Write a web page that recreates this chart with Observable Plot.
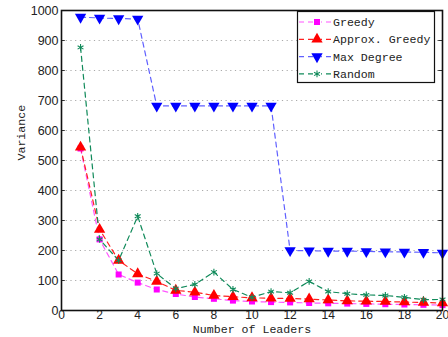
<!DOCTYPE html>
<html><head><meta charset="utf-8">
<script src="https://cdn.jsdelivr.net/npm/d3@7"></script>
<script src="https://cdn.jsdelivr.net/npm/@observablehq/plot@0.6"></script>
<style>body{margin:0;background:#fff}</style>
</head><body><div id="chart"></div>
<script>
const leaders = [1,2,3,4,5,6,7,8,9,10,11,12,13,14,15,16,17,18,19,20];
const greedy = [540,237,120,93,70,55,45,39,33,30,28,27,25,24,23,22,21,20,19,18];
const approxGreedy = [544,270,167,122,97,67,61,50,46,42,41,40,38,35,32,31,30,28,27,25];
const maxDegree = [978,975,973,972,682,682,682,682,682,682,682,200,199,198,198,197,196,195,194,192];
const random = [877,237,167,314,123,73,87,128,70,44,63,59,97,63,56,52,50,44,36,37];
const seriesNames = ["Greedy","Approx. Greedy","Max Degree","Random"];
const yTicks = [0,100,200,300,400,500,600,700,800,900,1000];
const xTicks = [0,2,4,6,8,10,12,14,16,18,20];

const styles = {
  "Greedy": {line:"#ff55ff", fill:"#ff00ff", stroke:"none", symbol:"square", r:3.4, rotate:0},
  "Approx. Greedy": {line:"#ff2020", fill:"#ff0000", stroke:"none", symbol:"triangle", r:4.2, rotate:0},
  "Max Degree": {line:"#6060ff", fill:"#0000ff", stroke:"none", symbol:"triangle", r:4.2, rotate:180},
  "Random": {line:"#108a5a", fill:"none", stroke:"#108a5a", symbol:"asterisk", r:3.2, rotate:0}
};
const valuesBy = {"Greedy":greedy,"Approx. Greedy":approxGreedy,"Max Degree":maxDegree,"Random":random};
const rows = seriesNames.map(s => leaders.map((x,i)=>({x, y: valuesBy[s][i], s})));

const marks = [
  Plot.ruleY(yTicks.filter(v=>v>0 && v<1000), {stroke:"#aaa", strokeDasharray:"1.2,3.5", strokeWidth:1}),
  Plot.ruleY(yTicks, {x1:0, x2:0.2, stroke:"#333"}),
  Plot.ruleY(yTicks, {x1:19.8, x2:20, stroke:"#333"}),
  Plot.axisY({ticks: yTicks, tickSize:0, tickPadding:3, fontSize:12.5, fill:"#222", label:null, tickFormat:d=>String(d)}),
  Plot.axisX({ticks: xTicks, tickSize:0, tickPadding:0, fontSize:12, fill:"#222", label:null, tickFormat:d=>String(d)}),
];
rows.forEach((data,k) => {
  const st = styles[seriesNames[k]];
  marks.push(Plot.line(data, {x:"x", y:"y", stroke: st.line, strokeWidth:1.2, strokeDasharray:"5,4"}));
});
rows.forEach((data,k) => {
  const st = styles[seriesNames[k]];
  marks.push(Plot.dot(data, {x:"x", y:"y", symbol: ()=>st.symbol, fill: st.fill, stroke: st.stroke, strokeWidth:1.1, r: st.r, rotate: st.rotate}));
});
marks.push(Plot.frame({stroke:"#111", strokeWidth:1.6}));
marks.push(Plot.text(["Number of Leaders"], {frameAnchor:"bottom", dy:22, fontFamily:"Liberation Mono", fontSize:11.6, fill:"#222"}));
marks.push(Plot.text(["Variance"], {frameAnchor:"left", dx:-40, rotate:-90, fontFamily:"Liberation Mono", fontSize:11.6, fill:"#222"}));

const chart = Plot.plot({
  width:448, height:337,
  marginLeft:61, marginRight:6, marginTop:10, marginBottom:27,
  style:{fontFamily:"Liberation Sans", background:"#fff"},
  x:{domain:[0,20]},
  y:{domain:[0,1000]},
  symbol:{type:"identity"},
  marks
});
document.getElementById("chart").appendChild(chart);

// legend
const svg = d3.select(chart);
const g = svg.append("g").attr("text-anchor","start");
g.append("rect").attr("x",297.5).attr("y",11.5).attr("width",137).attr("height",71)
  .attr("fill","#fff").attr("stroke","#111").attr("stroke-width",1.2);
seriesNames.forEach((s,i)=>{
  const st = styles[s];
  const y = 22 + i*17.3;
  g.append("line").attr("x1",299).attr("x2",334).attr("y1",y).attr("y2",y)
    .attr("stroke",st.line).attr("stroke-width",1.2).attr("stroke-dasharray","5,4");
  const sym = d3.symbol().type({square:d3.symbolSquare, triangle:d3.symbolTriangle, asterisk:d3.symbolAsterisk}[st.symbol]).size(st.r*st.r*Math.PI)();
  g.append("rect").attr("x",313).attr("y",y-4).attr("width",8).attr("height",8).attr("fill","#fff");
  g.append("path").attr("d",sym).attr("transform",`translate(317,${y}) rotate(${st.rotate})`)
    .attr("fill",st.fill).attr("stroke",st.stroke).attr("stroke-width",1.1);
  g.append("text").attr("x",333).attr("y",y).attr("dy","0.35em").attr("text-anchor","start").text(s)
    .attr("font-family","Liberation Mono").attr("font-size",11.6).attr("fill","#222");
});
</script></body></html>
